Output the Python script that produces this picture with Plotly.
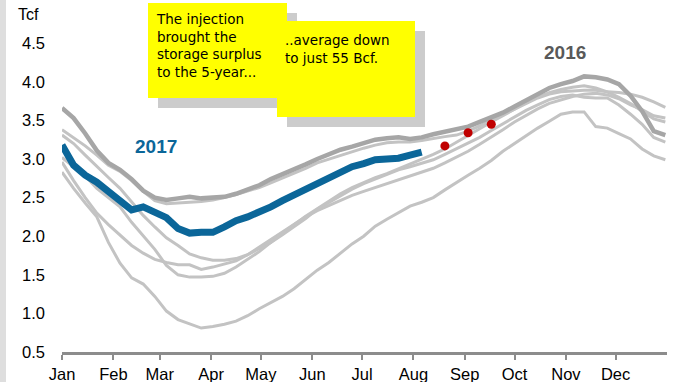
import plotly.graph_objects as go
from datetime import date, timedelta

# Weekly storage levels (Tcf), one value per week starting Jan 1
weeks = [date(2017, 1, 1) + timedelta(days=7 * k) for k in range(53)]

y2011 = [2.96, 2.72, 2.50, 2.30, 2.15, 2.02, 1.88, 1.78, 1.70, 1.66,
         1.63, 1.63, 1.57, 1.60, 1.64, 1.68, 1.76, 1.86, 1.96, 2.06,
         2.15, 2.25, 2.33, 2.40, 2.47, 2.53, 2.58, 2.63, 2.67, 2.72,
         2.77, 2.82, 2.88, 2.95, 3.02, 3.10, 3.19, 3.28, 3.38, 3.48,
         3.57, 3.65, 3.72, 3.77, 3.81, 3.84, 3.85, 3.83, 3.78, 3.70,
         3.64, 3.56, 3.53]
y2012 = [3.38, 3.28, 3.17, 3.05, 2.92, 2.84, 2.72, 2.58, 2.46, 2.42,
         2.43, 2.44, 2.45, 2.47, 2.50, 2.54, 2.58, 2.63, 2.69, 2.75,
         2.82, 2.88, 2.95, 3.00, 3.05, 3.10, 3.14, 3.18, 3.21, 3.22,
         3.22, 3.24, 3.27, 3.29, 3.31, 3.36, 3.43, 3.50, 3.57, 3.64,
         3.72, 3.79, 3.84, 3.87, 3.88, 3.89, 3.89, 3.87, 3.80, 3.72,
         3.62, 3.52, 3.48]
y2013 = [3.31, 3.20, 3.05, 2.90, 2.76, 2.62, 2.45, 2.27, 2.12, 1.98,
         1.88, 1.77, 1.72, 1.69, 1.69, 1.71, 1.76, 1.84, 1.92, 2.02,
         2.12, 2.23, 2.35, 2.44, 2.53, 2.61, 2.68, 2.74, 2.80, 2.86,
         2.90, 2.94, 2.99, 3.06, 3.13, 3.20, 3.28, 3.37, 3.46, 3.55,
         3.63, 3.70, 3.77, 3.81, 3.83, 3.80, 3.79, 3.79, 3.70, 3.58,
         3.45, 3.28, 3.22]
y2014 = [2.83, 2.62, 2.43, 2.25, 1.92, 1.65, 1.46, 1.38, 1.22, 1.03,
         0.92, 0.86, 0.81, 0.83, 0.86, 0.90, 0.97, 1.06, 1.14, 1.22,
         1.32, 1.44, 1.56, 1.66, 1.78, 1.90, 2.00, 2.13, 2.22, 2.31,
         2.39, 2.44, 2.50, 2.60, 2.70, 2.79, 2.88, 2.98, 3.10, 3.20,
         3.31, 3.40, 3.49, 3.58, 3.61, 3.61, 3.42, 3.40, 3.33, 3.26,
         3.13, 3.04, 2.99]
y2015 = [3.02, 2.90, 2.78, 2.62, 2.50, 2.38, 2.18, 2.00, 1.83, 1.62,
         1.50, 1.47, 1.47, 1.48, 1.52, 1.60, 1.70, 1.80, 1.92, 2.04,
         2.15, 2.26, 2.36, 2.46, 2.55, 2.63, 2.70, 2.76, 2.81, 2.87,
         2.93, 2.99, 3.06, 3.13, 3.22, 3.30, 3.40, 3.48, 3.56, 3.65,
         3.73, 3.80, 3.86, 3.90, 3.93, 3.95, 3.92, 3.87, 3.86, 3.84,
         3.80, 3.74, 3.67]
y2016 = [3.66, 3.53, 3.33, 3.11, 2.95, 2.86, 2.74, 2.59, 2.50, 2.47,
         2.49, 2.51, 2.49, 2.50, 2.51, 2.55, 2.60, 2.66, 2.74, 2.80,
         2.87, 2.93, 3.00, 3.06, 3.12, 3.16, 3.21, 3.25, 3.27, 3.28,
         3.26, 3.28, 3.32, 3.35, 3.38, 3.42, 3.48, 3.54, 3.60, 3.68,
         3.76, 3.84, 3.92, 3.97, 4.01, 4.07, 4.06, 4.03, 3.97, 3.82,
         3.62, 3.36, 3.31]
y2017 = [3.18, 2.92, 2.79, 2.70, 2.58, 2.45, 2.34, 2.38, 2.32, 2.24,
         2.10, 2.04, 2.05, 2.05, 2.12, 2.20, 2.25, 2.31, 2.38, 2.46,
         2.53, 2.62, 2.68, 2.74, 2.82, 2.90, 2.94, 2.99, 3.00, 3.01,
         3.05, 3.09]

# Projected points
proj_dates = [date(2017, 8, 20), date(2017, 9, 3), date(2017, 9, 17)]
proj_vals = [3.17, 3.34, 3.45]

y_ticks = [0.5, 1.0, 1.5, 2.0, 2.5, 3.0, 3.5, 4.0, 4.5]
month_ticks = [date(2017, m, 1) for m in range(1, 13)]
month_labels = ["Jan", "Feb", "Mar", "Apr", "May", "Jun",
                "Jul", "Aug", "Sep", "Oct", "Nov", "Dec"]

W, H = 676, 382
L, R, T, B = 62, 9, 0, 30
PW, PH = W - L - R, H - T - B


def px(x):
    return (x - L) / PW


def py(y):
    return (H - B - y) / PH


fig = go.Figure()

light = "#c3c3c3"
for name, vals in [("2011", y2011), ("2012", y2012), ("2013", y2013),
                   ("2014", y2014), ("2015", y2015)]:
    fig.add_trace(go.Scatter(x=weeks, y=vals, mode="lines", name=name,
                             line=dict(color=light, width=3)))

fig.add_trace(go.Scatter(x=weeks, y=y2016, mode="lines", name="2016",
                         line=dict(color="#a6a6a6", width=4.5)))
fig.add_trace(go.Scatter(x=weeks[:len(y2017)], y=y2017, mode="lines",
                         name="2017", line=dict(color="#0b6699", width=7)))
fig.add_trace(go.Scatter(x=proj_dates, y=proj_vals, mode="markers",
                         name="projection",
                         marker=dict(color="#c00000", size=9)))

shapes = [
    # light frame strip on the left edge
    dict(type="rect", xref="paper", yref="paper", x0=px(0), x1=px(6),
         y0=py(H), y1=py(0), fillcolor="#dedede", line_width=0, layer="below"),
    # note 1 shadow + box
    dict(type="rect", xref="paper", yref="paper", x0=px(158), x1=px(297),
         y0=py(108), y1=py(13), fillcolor="#cccccc", line_width=0, layer="above"),
    dict(type="rect", xref="paper", yref="paper", x0=px(148), x1=px(287),
         y0=py(98), y1=py(3), fillcolor="#ffff00", line_width=0, layer="above"),
    # note 2 shadow + box
    dict(type="rect", xref="paper", yref="paper", x0=px(287), x1=px(425),
         y0=py(127), y1=py(31), fillcolor="#cccccc", line_width=0, layer="above"),
    dict(type="rect", xref="paper", yref="paper", x0=px(277), x1=px(415),
         y0=py(117), y1=py(21), fillcolor="#ffff00", line_width=0, layer="above"),
]

note_font = dict(family="Comic Sans MS, DejaVu Sans, sans-serif",
                 size=13.5, color="#000000")
annotations = [
    dict(text="Tcf", xref="paper", yref="paper", x=px(28), y=py(14),
         showarrow=False, xanchor="center", yanchor="middle",
         font=dict(family="Liberation Sans, Arial", size=16, color="#000000")),
    dict(text="The injection<br>brought the<br>storage surplus<br>to the 5-year...",
         xref="paper", yref="paper", x=px(154), y=py(9), showarrow=False,
         xanchor="left", yanchor="top", align="left", font=note_font),
    dict(text="..average down<br>to just 55 Bcf.",
         xref="paper", yref="paper", x=px(283), y=py(30), showarrow=False,
         xanchor="left", yanchor="top", align="left", font=note_font),
    dict(text="<b>2017</b>", xref="paper", yref="paper", x=px(156), y=py(146),
         showarrow=False, xanchor="center", yanchor="middle",
         font=dict(family="Liberation Sans, Arial", size=19, color="#0b6699")),
    dict(text="<b>2016</b>", xref="paper", yref="paper", x=px(565), y=py(53),
         showarrow=False, xanchor="center", yanchor="middle",
         font=dict(family="Liberation Sans, Arial", size=19, color="#595959")),
]

fig.update_layout(
    width=W, height=H,
    margin=dict(l=L, r=R, t=T, b=B, pad=0),
    paper_bgcolor="#ffffff", plot_bgcolor="#ffffff",
    showlegend=False,
    shapes=shapes, annotations=annotations,
    font=dict(family="Liberation Sans, Arial", size=16, color="#000000"),
)
fig.update_xaxes(
    type="date", range=[date(2017, 1, 1), date(2018, 1, 1)],
    tickvals=month_ticks, ticktext=month_labels,
    showgrid=False, zeroline=False,
    showline=True, linecolor="#8c8c8c", linewidth=3,
    ticks="outside", ticklen=5, tickwidth=2, tickcolor="#8c8c8c",
    tickfont=dict(size=16.5, color="#000000"),
)
fig.update_yaxes(
    range=[0.5, 0.5 + PH / 77.2],
    tickvals=y_ticks, ticktext=[f"{v:.1f}" for v in y_ticks],
    showgrid=False, zeroline=False, showline=False,
    ticks="", ticklabelstandoff=16,
    tickfont=dict(size=16.5, color="#000000"),
)

fig.write_html("out.html")
